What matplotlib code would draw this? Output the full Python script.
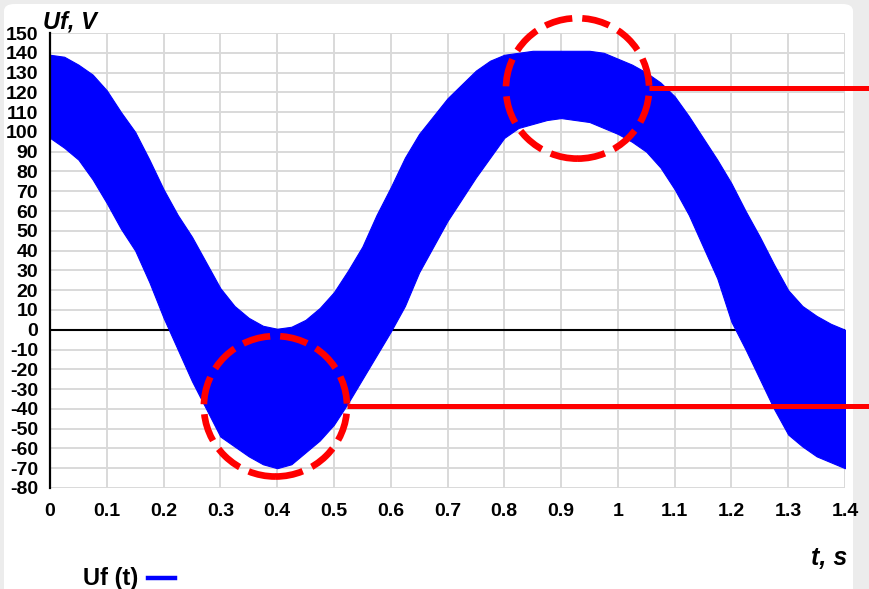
import matplotlib.pyplot as plt
from matplotlib.patches import Ellipse, FancyBboxPatch
from matplotlib.lines import Line2D

plt.rcParams['font.family'] = ['Liberation Sans', 'DejaVu Sans']

# Envelope of the Uf(t) signal (every 0.025 s)
t = [0.0, 0.025, 0.05, 0.075, 0.1, 0.125, 0.15, 0.175, 0.2, 0.225, 0.25, 0.275,
     0.3, 0.325, 0.35, 0.375, 0.4, 0.425, 0.45, 0.475, 0.5, 0.525, 0.55, 0.575,
     0.6, 0.625, 0.65, 0.675, 0.7, 0.725, 0.75, 0.775, 0.8, 0.825, 0.85, 0.875,
     0.9, 0.925, 0.95, 0.975, 1.0, 1.025, 1.05, 1.075, 1.1, 1.125, 1.15, 1.175,
     1.2, 1.225, 1.25, 1.275, 1.3, 1.325, 1.35, 1.375, 1.4]
uf_upper = [139, 138, 134, 129, 121, 110, 100, 86, 71, 58, 47, 34,
            21, 12, 6, 2, 0.5, 1.5, 5, 11, 19, 30, 42, 58,
            72, 87, 99, 108, 117, 124, 131, 136, 139, 140, 141, 141,
            141, 141, 141, 140, 137, 134, 130, 125, 118, 108, 97, 86,
            74, 60, 47, 33, 20, 12, 7, 3, 0]
uf_lower = [97, 92, 86, 76, 64, 51, 40, 24, 6, -10, -26, -40,
            -54, -59, -64, -68, -70, -68, -62, -56, -48, -37, -25, -13,
            -1, 12, 29, 42, 55, 66, 77, 87, 97, 102, 104, 106,
            107, 106, 105, 102, 99, 95, 90, 82, 71, 58, 42, 26,
            4, -10, -25, -40, -53, -59, -64, -67, -70]

x_ticks = [0, 0.1, 0.2, 0.3, 0.4, 0.5, 0.6, 0.7, 0.8, 0.9, 1.0, 1.1, 1.2, 1.3, 1.4]
x_labels = ['0', '0.1', '0.2', '0.3', '0.4', '0.5', '0.6', '0.7', '0.8', '0.9',
            '1', '1.1', '1.2', '1.3', '1.4']
y_ticks = list(range(-80, 151, 10))

# highlighted regions (centre t, centre Uf)
circle_centres = [(0.929, 122), (0.397, -38.7)]

fig = plt.figure(figsize=(8.7, 5.89), dpi=100, facecolor='#ececec')
card = FancyBboxPatch((4 / 870, -0.05), 849 / 870, 1.05 - 4 / 589,
                      boxstyle='round,pad=0,rounding_size=0.012',
                      transform=fig.transFigure, facecolor='white', edgecolor='none',
                      zorder=-10)
fig.patches.append(card)

ax = fig.add_axes([50 / 870, 1 - 488 / 589, 795 / 870, 455 / 589])
ax.set_facecolor('none')
ax.set_xlim(0, 1.4)
ax.set_ylim(-80, 150)
ax.set_xticks(x_ticks)
ax.set_xticklabels(x_labels, fontsize=14, fontweight='bold')
ax.set_yticks(y_ticks)
ax.set_yticklabels([str(v) for v in y_ticks], fontsize=14, fontweight='bold')
ax.tick_params(axis='x', length=0, pad=10.5)
ax.tick_params(axis='y', length=0, pad=8.5)
ax.grid(color='#d9d9d9', lw=1.4)
ax.set_axisbelow(True)
for side in ['top', 'right', 'bottom']:
    ax.spines[side].set_visible(False)
ax.spines['left'].set_color('black')
ax.spines['left'].set_linewidth(1.6)

ax.axhline(0, color='black', lw=1.5, zorder=1.5)
ax.fill_between(t, uf_lower, uf_upper, color='#0000ff', lw=0.8, zorder=2)

# red dashed circles with pointer lines to the right edge
for ct, cu in circle_centres:
    ax.add_patch(Ellipse((ct, cu), 0.252, 71, fill=False, ec='#ff0000', lw=4.8,
                         ls=(0, (4.2, 1.5)), zorder=5, clip_on=False))
    ax.plot([ct + 0.126, 1.6], [cu, cu], color='#ff0000', lw=3.6,
            solid_capstyle='butt', clip_on=False, zorder=5)

fig.text(43 / 870, 1 - 28 / 589, 'Uf, V', fontsize=17, fontweight='bold',
         fontstyle='italic', va='baseline')
fig.text(847 / 870, 1 - 565 / 589, 't, s', fontsize=18, fontweight='bold',
         fontstyle='italic', va='baseline', ha='right')

# legend
fig.text(83 / 870, 1 - 585 / 589, 'Uf (t)', fontsize=17, fontweight='bold', va='baseline')
fig.lines.append(Line2D([148 / 870, 175 / 870], [1 - 578 / 589, 1 - 578 / 589],
                        transform=fig.transFigure, color='#0000ff', lw=3.2))

plt.savefig('out.png', dpi=100, facecolor=fig.get_facecolor())
